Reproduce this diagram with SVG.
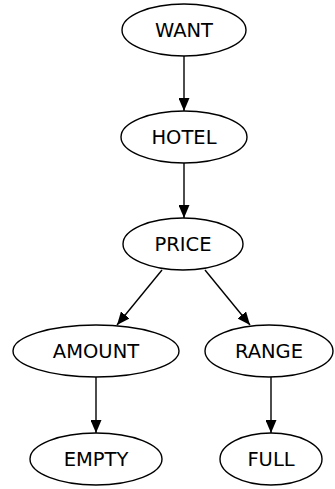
<svg xmlns="http://www.w3.org/2000/svg" width="335" height="489" viewBox="0 0 335 489">
<defs>
<style>
.n ellipse{fill:#fff;stroke:#000;stroke-width:1.4}
.n text{font-family:"DejaVu Sans",sans-serif;font-size:19.5px;text-anchor:middle;dominant-baseline:central;fill:#000}
.e line{stroke:#000;stroke-width:1.4}
</style>
<marker id="ah" markerWidth="13" markerHeight="11" refX="13" refY="5.5" orient="auto" markerUnits="userSpaceOnUse">
<path d="M0,0 L13,5.5 L0,11 Z" fill="#000"/>
</marker>
</defs>
<rect width="335" height="489" fill="#fff"/>
<g id="edges" class="e">
<line x1="184" y1="56" x2="184" y2="111" marker-end="url(#ah)"/>
<line x1="184" y1="163" x2="184" y2="218" marker-end="url(#ah)"/>
<line x1="162" y1="270" x2="117" y2="325" marker-end="url(#ah)"/>
<line x1="205" y1="270" x2="250" y2="325" marker-end="url(#ah)"/>
<line x1="96" y1="377" x2="96" y2="433" marker-end="url(#ah)"/>
<line x1="271" y1="377" x2="271" y2="433" marker-end="url(#ah)"/>
</g>
<g id="WANT" class="n"><ellipse cx="184" cy="30" rx="62" ry="26"/><text x="184" y="30">WANT</text></g>
<g id="HOTEL" class="n"><ellipse cx="184" cy="137" rx="63" ry="26"/><text x="184" y="137">HOTEL</text></g>
<g id="PRICE" class="n"><ellipse cx="183" cy="244" rx="60" ry="26"/><text x="183" y="244">PRICE</text></g>
<g id="AMOUNT" class="n"><ellipse cx="96" cy="351" rx="83" ry="26"/><text x="96" y="351">AMOUNT</text></g>
<g id="RANGE" class="n"><ellipse cx="269" cy="351" rx="64" ry="26"/><text x="269" y="351">RANGE</text></g>
<g id="EMPTY" class="n"><ellipse cx="96" cy="459" rx="66" ry="26"/><text x="96" y="459">EMPTY</text></g>
<g id="FULL" class="n"><ellipse cx="271" cy="459" rx="51" ry="26"/><text x="271" y="459">FULL</text></g>
</svg>
